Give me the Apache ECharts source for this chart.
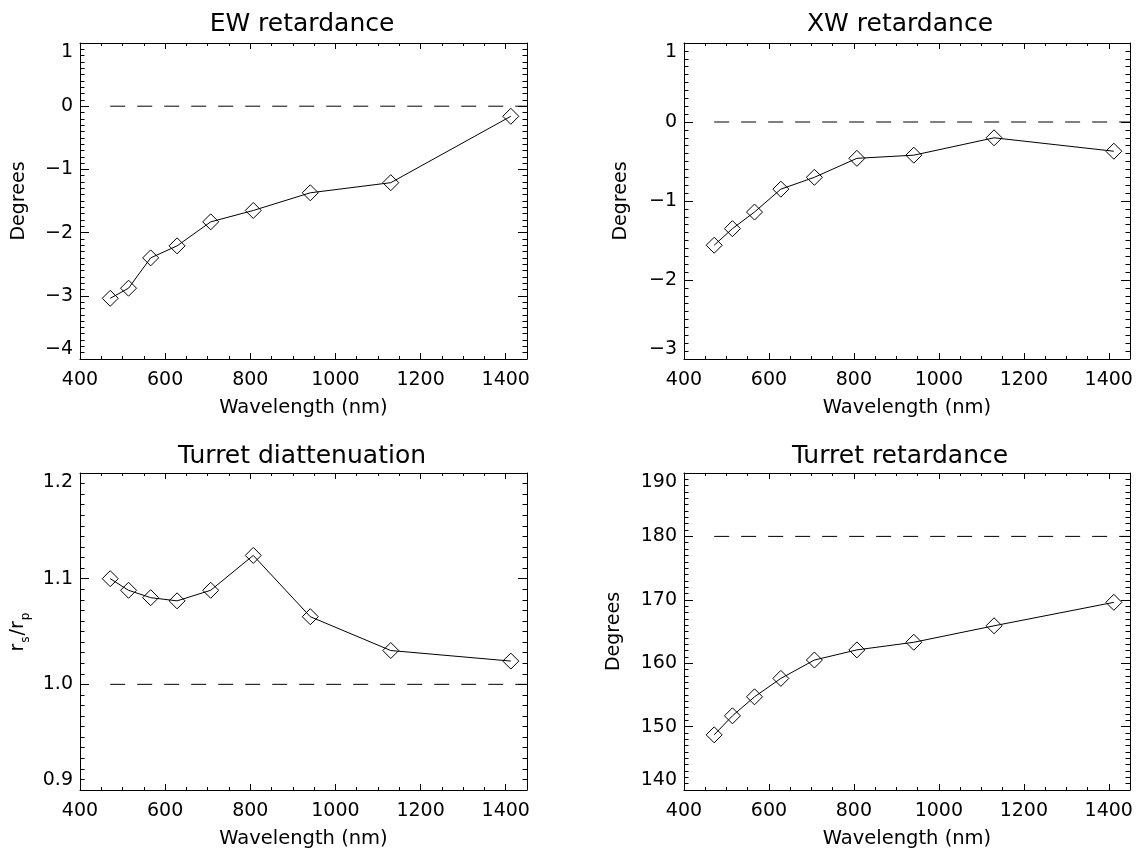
<!DOCTYPE html>
<html><head><meta charset="utf-8">
<script src="https://cdn.jsdelivr.net/npm/echarts@6/dist/echarts.min.js"></script>
<style>html,body{margin:0;padding:0;background:#fff}#c{width:1138px;height:850px}</style>
</head><body><div id="c"></div>
<script>
// ---- data ----
const wavelengths = [471, 514, 566, 628, 707, 807, 941, 1130, 1412];
const ewRetardance = [-3.04, -2.88, -2.40, -2.21, -1.83, -1.65, -1.37, -1.21, -0.16];
const xwRetardance = [-1.56, -1.35, -1.14, -0.85, -0.70, -0.46, -0.42, -0.20, -0.37];
const turretDiattenuation = [1.100, 1.089, 1.082, 1.079, 1.089, 1.122, 1.064, 1.032, 1.022];
const turretRetardance = [148.7, 151.7, 154.7, 157.6, 160.5, 162.1, 163.3, 165.9, 169.6];
const panelTitles = ['EW retardance', 'XW retardance', 'Turret diattenuation', 'Turret retardance'];
const yNames = ['Degrees', 'Degrees', '{a|r}{b|s}{a|/r}{b|p}', 'Degrees'];
const xName = 'Wavelength (nm)';
const refValues = [0, 0, 1.0, 180];
const refRange = [471, 1450];
const xRange = [400, 1450];
const xStep = 200;
const yRanges = [[-4, 1], [-3, 1], [0.9, 1.2], [140, 190]];
const ySteps = [1, 1, 0.1, 10];
const yDecimals = [0, 0, 1, 0];

const seriesValues = [ewRetardance, xwRetardance, turretDiattenuation, turretRetardance];

// ---- layout ----
const FONT = 'DejaVu Sans';
const grids = [
  {left: 80, top: 43, width: 447, height: 316},
  {left: 684, top: 43, width: 446, height: 316},
  {left: 80, top: 473, width: 447, height: 317},
  {left: 684, top: 473, width: 446, height: 317}
];
const titleCenters = [302, 900, 302, 900];
const titleTops = [12, 12, 444, 444];
const nameGaps = [51, 53, 48, 60];

const chart = echarts.init(document.getElementById('c'), null, {renderer: 'canvas'});
const option = {
  backgroundColor: '#fff',
  animation: false,
  title: [], grid: [], xAxis: [], yAxis: [], series: []
};

const axisLine = {show: true, onZero: false, lineStyle: {color: '#000', width: 1}};

grids.forEach((g, i) => {
  option.grid.push(Object.assign({containLabel: false}, g));
  option.title.push({
    text: panelTitles[i],
    left: titleCenters[i],
    top: titleTops[i],
    padding: 0,
    textAlign: 'center',
    textStyle: {fontFamily: FONT, fontSize: 25, fontWeight: 'normal', color: '#000'}
  });
  const xBase = {
    type: 'value', gridIndex: i, min: xRange[0], max: xRange[1], interval: xStep,
    axisLine: axisLine, splitLine: {show: false},
    axisTick: {show: true, inside: true, length: 6, lineStyle: {color: '#000'}},
    minorTick: {show: true, splitNumber: 4, length: 3, lineStyle: {color: '#000'}},
  };
  option.xAxis.push(Object.assign({}, xBase, {
    position: 'bottom',
    name: xName, nameLocation: 'middle', nameGap: 39,
    nameTextStyle: {fontFamily: FONT, fontSize: 19.5, color: '#000'},
    axisLabel: {
      show: true, margin: 12, color: '#000', fontFamily: FONT, fontSize: 19,
      formatter: v => (Math.abs(v % xStep) < 1e-6 ? String(v) : '')
    }
  }));
  option.xAxis.push(Object.assign({}, xBase, {
    position: 'top', axisLabel: {show: false}
  }));
  const yBase = {
    type: 'value', gridIndex: i, min: yRanges[i][0], max: yRanges[i][1], interval: ySteps[i],
    axisLine: axisLine, splitLine: {show: false},
    axisTick: {show: true, inside: true, length: 9, lineStyle: {color: '#000'}},
    minorTick: {show: true, splitNumber: 10, length: 4.5, lineStyle: {color: '#000'}},
  };
  const dec = yDecimals[i];
  option.yAxis.push(Object.assign({}, yBase, {
    position: 'left',
    name: yNames[i], nameLocation: 'middle', nameGap: nameGaps[i],
    nameTextStyle: {
      fontFamily: FONT, fontSize: 19, color: '#000',
      rich: {
        a: {fontFamily: FONT, fontSize: 19, color: '#000'},
        b: {fontFamily: FONT, fontSize: 12, color: '#000', verticalAlign: 'bottom', padding: [16, 1, 0, 1]}
      }
    },
    axisLabel: {
      show: true, margin: 7, color: '#000', fontFamily: FONT, fontSize: 19,
      verticalAlignMaxLabel: 'top', verticalAlignMinLabel: 'bottom',
      formatter: v => {
        const s = Number(v).toFixed(dec);
        return s.replace('-', '\u2212');
      }
    }
  }));
  option.yAxis.push(Object.assign({}, yBase, {
    position: 'right', axisLabel: {show: false}
  }));

  // data series
  option.series.push({
    type: 'line', xAxisIndex: 2 * i, yAxisIndex: 2 * i,
    data: wavelengths.map((w, k) => [w, seriesValues[i][k]]),
    symbol: 'diamond', symbolSize: 16,
    lineStyle: {color: '#000', width: 1},
    itemStyle: {color: 'rgba(0,0,0,0)', borderColor: '#000', borderWidth: 1},
    emphasis: {disabled: true}, silent: true, z: 3
  });
  // reference dashed line
  option.series.push({
    type: 'line', xAxisIndex: 2 * i, yAxisIndex: 2 * i,
    data: refRange.map(w => [w, refValues[i]]),
    symbol: 'none',
    lineStyle: {color: '#000', width: 1, type: [15, 12]},
    emphasis: {disabled: true}, silent: true, z: 2
  });
});

chart.setOption(option);
</script>
</body></html>
